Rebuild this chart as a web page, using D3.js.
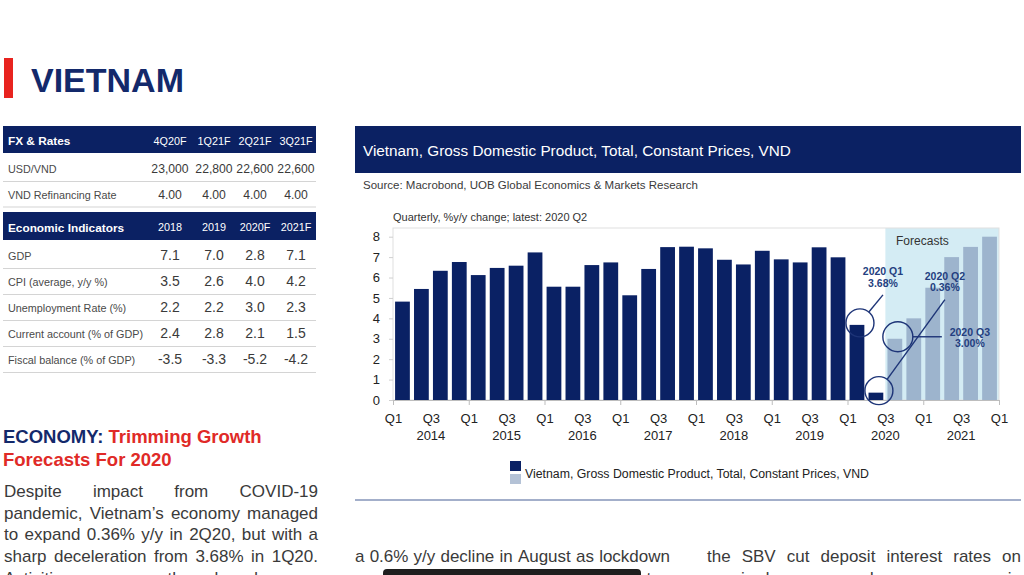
<!DOCTYPE html>
<html><head><meta charset="utf-8">
<script src="https://cdn.jsdelivr.net/npm/d3@7/dist/d3.min.js"></script>
<style>
html,body{margin:0;padding:0;background:#fff;overflow:hidden;}
svg{display:block;font-family:"Liberation Sans",Arial,Helvetica,sans-serif;}
</style></head><body>
<svg id="page" width="1024" height="575"></svg>
<script>
// ---------------- DATA ----------------
const quarters = [
  "2014 Q1","2014 Q2","2014 Q3","2014 Q4","2015 Q1","2015 Q2","2015 Q3","2015 Q4",
  "2016 Q1","2016 Q2","2016 Q3","2016 Q4","2017 Q1","2017 Q2","2017 Q3","2017 Q4",
  "2018 Q1","2018 Q2","2018 Q3","2018 Q4","2019 Q1","2019 Q2","2019 Q3","2019 Q4",
  "2020 Q1","2020 Q2","2020 Q3","2020 Q4","2021 Q1","2021 Q2","2021 Q3","2021 Q4"
];
const actualValues = [4.82,5.44,6.33,6.76,6.12,6.47,6.58,7.23,5.55,5.55,6.61,6.74,5.13,6.42,7.49,7.51,
                      7.43,6.87,6.64,7.31,6.89,6.74,7.48,6.99,3.68,0.36];
const forecastValues = [3.00,4.00,5.50,7.00,7.50,8.00];
const yTicks = [0,1,2,3,4,5,6,7,8];
const quarterTickLabels = ["Q1","Q3"];
const yearLabels = ["2014","2015","2016","2017","2018","2019","2020","2021"];
const chartTitle = "Vietnam, Gross Domestic Product, Total, Constant Prices, VND";
const sourceText = "Source: Macrobond, UOB Global Economics & Markets Research";
const subtitle = "Quarterly, %y/y change; latest: 2020 Q2";
const legendLabel = "Vietnam, Gross Domestic Product, Total, Constant Prices, VND";
const annotationQuarters = ["2020 Q1","2020 Q2","2020 Q3"];
const annotationLabels = [["2020 Q1","3.68%"],["2020 Q2","0.36%"],["2020 Q3","3.00%"]];

const fxHeader = ["FX & Rates","4Q20F","1Q21F","2Q21F","3Q21F"];
const fxRowLabels = ["USD/VND","VND Refinancing Rate"];
const fxRowValues = [["23,000","22,800","22,600","22,600"],["4.00","4.00","4.00","4.00"]];
const ecoHeader = ["Economic Indicators","2018","2019","2020F","2021F"];
const ecoRowLabels = ["GDP","CPI (average, y/y %)","Unemployment Rate (%)","Current account (% of GDP)","Fiscal balance (% of GDP)"];
const ecoRowValues = [["7.1","7.0","2.8","7.1"],["3.5","2.6","4.0","4.2"],["2.2","2.2","3.0","2.3"],["2.4","2.8","2.1","1.5"],["-3.5","-3.3","-5.2","-4.2"]];

const paraLeft = ["Despite impact from COVID-19","pandemic, Vietnam\u2019s economy managed","to expand 0.36% y/y in 2Q20, but with a","sharp deceleration from 3.68% in 1Q20.","Activities across the board were"];
const paraMid = ["a 0.6% y/y decline in August as lockdown","measures were reinstated in the country;"];
const paraRight = ["the SBV cut deposit interest rates on","required reserves and excess reserves in"];

// ---------------- STYLE ----------------
const NAVY = "#0b2163";
const svg = d3.select("#page");
svg.append("rect").attr("width",1024).attr("height",575).attr("fill","#fff");

function justifyLine(g, text, x0, x1, y, size, color, weight, justify){
  const words = text.split(" ");
  const nodes = words.map(w => g.append("text").attr("y", y).attr("font-size", size)
      .attr("fill", color).attr("font-weight", weight||"normal").text(w));
  const widths = nodes.map(n => n.node().getComputedTextLength());
  const spaceW = size*0.278;
  const gap = (justify && words.length>1) ? (x1-x0-d3.sum(widths))/(words.length-1) : spaceW;
  let x = x0;
  nodes.forEach((n,i)=>{ n.attr("x", x); x += widths[i]+gap; });
}

// ---------------- PAGE HEADER ----------------
svg.append("rect").attr("x",4).attr("y",58).attr("width",9).attr("height",40).attr("fill","#e8231f");
svg.append("text").attr("x",31).attr("y",92).attr("font-size",34).attr("font-weight","bold")
  .attr("fill","#13296b").text("VIETNAM");

// ---------------- TABLE ----------------
const colCenters = [170,214,255,296];
const tbl = svg.append("g");
function header(row, y0, h, base){
  tbl.append("rect").attr("x",3).attr("y",y0).attr("width",313).attr("height",h).attr("fill",NAVY);
  tbl.append("text").attr("x",8).attr("y",base).attr("font-size",11.8).attr("font-weight","bold")
    .attr("fill","#fff").text(row[0]);
  row.slice(1).forEach((c,i)=> tbl.append("text").attr("x",colCenters[i]).attr("y",base-0.5)
    .attr("text-anchor","middle").attr("font-size",10.8).attr("fill","#fff").text(c));
}
function rows(labels, values, base0, pitch, vsize){
  labels.forEach((lab,r)=>{
    const b = base0 + r*pitch;
    tbl.append("text").attr("x",8).attr("y",b).attr("font-size",10.8).attr("fill","#4a4a4a").text(lab);
    values[r].forEach((v,i)=> tbl.append("text").attr("x",colCenters[i]).attr("y",b)
      .attr("text-anchor","middle").attr("font-size",vsize).attr("fill","#3a3a3a").text(v));
    tbl.append("line").attr("x1",3).attr("x2",316).attr("y1",b+8.5).attr("y2",b+8.5)
      .attr("stroke","#d4d4d4").attr("stroke-width",1.2);
  });
}
header(fxHeader,126,27,145);
rows(fxRowLabels, fxRowValues, 173, 25.5, 12.2);
header(ecoHeader,212,28,231.5);
rows(ecoRowLabels, ecoRowValues, 260, 26, 14);

// ---------------- LEFT TEXT ----------------
const hd = svg.append("text").attr("x",3).attr("y",443).attr("font-size",18.5).attr("font-weight","bold");
hd.append("tspan").attr("fill","#13296b").text("ECONOMY: ");
hd.append("tspan").attr("fill","#e02a27").text("Trimming Growth");
svg.append("text").attr("x",3).attr("y",465.5).attr("font-size",18.5).attr("font-weight","bold")
  .attr("fill","#e02a27").text("Forecasts For 2020");
const pg = svg.append("g");
paraLeft.forEach((l,i)=> justifyLine(pg, l, 4, 318, 497 + i*21.7, 17, "#3a3a3a", "normal", true));
paraMid.forEach((l,i)=> justifyLine(pg, l, 355, 670, 562 + i*21.7, 17, "#3a3a3a", "normal", true));
paraRight.forEach((l,i)=> justifyLine(pg, l, 707, 1021, 562 + i*21.7, 17, "#3a3a3a", "normal", true));
svg.append("rect").attr("x",383).attr("y",569).attr("width",258).attr("height",14).attr("rx",4)
  .attr("fill","#1e1e1e");

// ---------------- CHART PANEL ----------------
svg.append("rect").attr("x",355).attr("y",126).attr("width",666).attr("height",47).attr("fill",NAVY);
svg.append("text").attr("x",363).attr("y",155.5).attr("font-size",15.3).attr("fill","#fff").text(chartTitle);
svg.append("text").attr("x",363).attr("y",189).attr("font-size",11.5).attr("fill","#3a3a3a").text(sourceText);
svg.append("line").attr("x1",355).attr("x2",1021).attr("y1",500).attr("y2",500)
  .attr("stroke","#8494b8").attr("stroke-width",1.5);

const x0 = 393, x1 = 999;
const x = d3.scaleBand().domain(quarters).range([x0,x1]).paddingInner(0.22).paddingOuter(0.11);
const xi = d3.scaleLinear().domain([0, quarters.length]).range([x0,x1]);
const y = d3.scaleLinear().domain([0,8]).range([400,236.7]);
const plotTop = 228;

const ch = svg.append("g");
ch.append("text").attr("x",x0).attr("y",221).attr("font-size",11).attr("fill","#333").text(subtitle);

// forecast shading
const fStart = actualValues.length;
ch.append("rect").attr("x", xi(fStart)).attr("y", plotTop)
  .attr("width", x1 - xi(fStart)).attr("height", y(0)-plotTop).attr("fill","#d4ecf4");
// frame
ch.append("rect").attr("x",x0).attr("y",plotTop).attr("width",x1-x0).attr("height",y(0)-plotTop)
  .attr("fill","none").attr("stroke","#e0e0e0").attr("stroke-width",1);
ch.append("text").attr("x", xi(fStart) + 37).attr("y",244.5).attr("text-anchor","middle")
  .attr("font-size",12).attr("fill","#333").text("Forecasts");

// bars
const actualData = actualValues.map((v,i)=>({q:quarters[i], v}));
const forecastData = forecastValues.map((v,i)=>({q:quarters[fStart+i], v}));
ch.selectAll("rect.act").data(actualData).join("rect").attr("class","act")
  .attr("x",d=>x(d.q)).attr("width",x.bandwidth()).attr("y",d=>y(d.v)).attr("height",d=>y(0)-y(d.v))
  .attr("fill","#0a2164");
ch.selectAll("rect.fc").data(forecastData).join("rect").attr("class","fc")
  .attr("x",d=>x(d.q)).attr("width",x.bandwidth()).attr("y",d=>y(d.v)).attr("height",d=>y(0)-y(d.v))
  .attr("fill","#9db4cd");

// y axis
const ya = ch.append("g").attr("transform",`translate(${x0},0)`)
  .call(d3.axisLeft(y).tickValues(yTicks).tickSize(4).tickPadding(9).tickFormat(d3.format("d")));
ya.select(".domain").remove();
ya.selectAll("line").attr("stroke","#cfcfcf");
ya.selectAll("text").attr("font-size",13).attr("fill","#222").attr("font-family","inherit");

// x axis
const xa = ch.append("g").attr("transform",`translate(0,${y(0)})`)
  .call(d3.axisBottom(xi).tickValues(d3.range(0, quarters.length+1, 4)).tickSize(5).tickFormat(""));
xa.select(".domain").attr("stroke","#bdbdbd");
xa.selectAll("line").attr("stroke","#bdbdbd");
const xl = ch.append("g").attr("transform",`translate(0,${y(0)})`)
  .call(d3.axisBottom(xi).tickValues(d3.range(0, quarters.length+1, 2)).tickSize(0)
    .tickFormat(i => quarterTickLabels[(i/2)%2]));
xl.select(".domain").remove();
xl.selectAll("text").attr("y",23).attr("dy",null).attr("font-size",13).attr("fill","#222").attr("font-family","inherit");
ch.selectAll("text.yr").data(yearLabels).join("text").attr("class","yr")
  .attr("x",(d,i)=>xi(i*4+2)).attr("y",440).attr("text-anchor","middle")
  .attr("font-size",13).attr("fill","#222").text(d=>d);

// annotations
const annLine = [[23,-28],[66,-91],[44,0]];
const annText = [[23,-48,-36.3],[66,-111,-99.3],[72,-1,10.7]];
const annR = [14,14,15];
const allVals = actualValues.concat(forecastValues);
annotationQuarters.forEach((q,k)=>{
  const i = quarters.indexOf(q);
  const cx = x(q) + x.bandwidth()/2 + 3, cy = y(allVals[i]) - 2;
  const r = annR[k];
  ch.append("circle").attr("cx",cx).attr("cy",cy).attr("r",r)
    .attr("fill","none").attr("stroke","#1d3477").attr("stroke-width",1.4);
  const [dx,dy] = annLine[k]; const L = Math.hypot(dx,dy);
  ch.append("line").attr("x1",cx+dx/L*r).attr("y1",cy+dy/L*r).attr("x2",cx+dx).attr("y2",cy+dy)
    .attr("stroke","#1d3477").attr("stroke-width",1.4);
  const [tx,b1,b2] = annText[k];
  [b1,b2].forEach((b,j)=> ch.append("text").attr("x",cx+tx).attr("y",cy+b).attr("text-anchor","middle")
    .attr("font-size",10.5).attr("font-weight","bold").attr("fill","#243f80").text(annotationLabels[k][j]));
});

// legend
const lg = svg.append("g");
lg.append("rect").attr("x",510).attr("y",461).attr("width",11).attr("height",10).attr("fill","#0a2164");
lg.append("rect").attr("x",510).attr("y",474).attr("width",11).attr("height",10).attr("fill","#b4c2d6");
lg.append("text").attr("x",525).attr("y",478).attr("font-size",12.3).attr("fill","#222").text(legendLabel);
</script>
</body></html>
